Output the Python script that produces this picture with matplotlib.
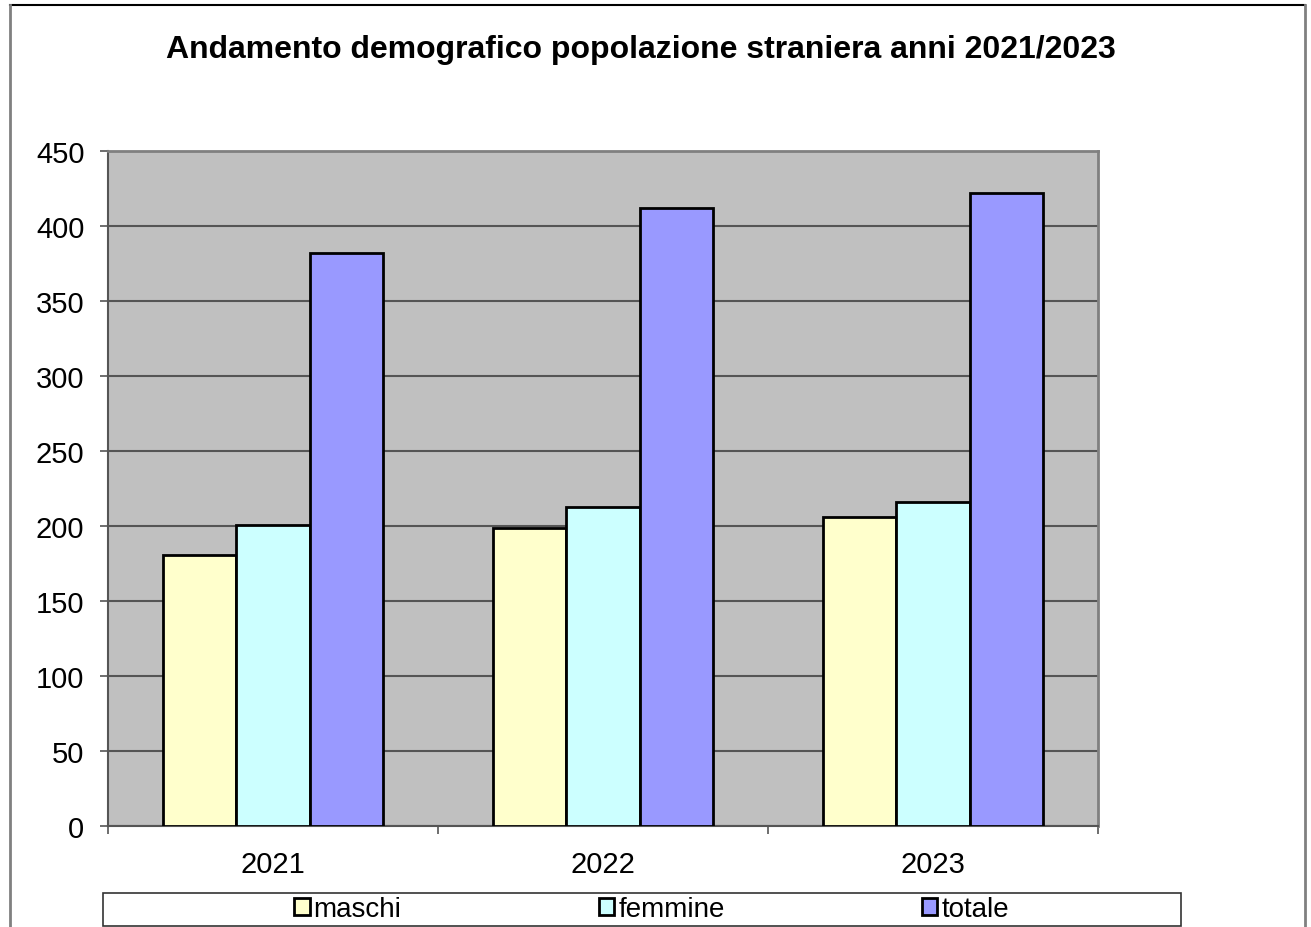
import numpy as np
import matplotlib.pyplot as plt
from matplotlib.lines import Line2D
from matplotlib.patches import Rectangle

plt.rcParams["font.family"] = ["Liberation Sans", "DejaVu Sans"]

anni = ["2021", "2022", "2023"]
maschi = [181, 199, 206]
femmine = [201, 213, 216]
totale = [382, 412, 422]

serie = ["maschi", "femmine", "totale"]
colori = ["#FFFFCC", "#CCFFFF", "#9999FF"]

fig = plt.figure(figsize=(13.11, 9.28), dpi=100)
ax = fig.add_axes([108 / 1311, 1 - 827 / 928, 990 / 1311, 675 / 928])
ax.set_facecolor("#C0C0C0")

x = np.arange(len(anni))
w = 0.222
for i, (vals, col, nome) in enumerate(zip([maschi, femmine, totale], colori, serie)):
    ax.bar(x + (i - 1) * w, vals, width=w, color=col, edgecolor="black",
           linewidth=2, label=nome, zorder=3)

ax.set_xlim(-0.5, 2.5)
ax.set_ylim(0, 450)
ax.set_yticks(np.arange(0, 451, 50))
ax.yaxis.grid(True, color="#555555", linewidth=1.5, zorder=0)
ax.set_axisbelow(True)

# category labels between the tick marks
ax.set_xticks(x)
ax.set_xticklabels(anni)
ax.set_xticks(np.arange(-0.5, 3, 1), minor=True)
ax.tick_params(axis="x", which="major", length=0, pad=17, labelsize=21)
ax.tick_params(axis="x", which="minor", length=6, width=1.2, color="#555555")
ax.tick_params(axis="y", length=6, width=1.2, color="#555555", labelsize=21, pad=11)

for s in ["top", "right"]:
    ax.spines[s].set_color("#808080")
    ax.spines[s].set_linewidth(2)
for s in ["left", "bottom"]:
    ax.spines[s].set_color("#555555")
    ax.spines[s].set_linewidth(1.5)

fig.text(0.489, 1 - 50 / 928, "Andamento demografico popolazione straniera anni 2021/2023",
         ha="center", va="center", fontsize=23, fontweight="bold")

# chart area frame
fig.add_artist(Line2D([10 / 1311, 1305 / 1311], [1 - 6 / 928] * 2, color="black", lw=1.5))
fig.add_artist(Line2D([10 / 1311] * 2, [0, 1 - 6 / 928], color="#808080", lw=2))
fig.add_artist(Line2D([1305 / 1311] * 2, [0, 1 - 6 / 928], color="#808080", lw=2))

# legend box below the axis
fig.add_artist(Rectangle((103 / 1311, 1 - 927 / 928), 1078 / 1311, 33 / 928,
                         transform=fig.transFigure, facecolor="white",
                         edgecolor="#333333", lw=1.2))
handles, labels = ax.get_legend_handles_labels()
leg = fig.legend(handles, labels, loc="center", bbox_to_anchor=(0.497, 1 - 910 / 928),
                 ncol=3, frameon=False, fontsize=20, handlelength=0.55,
                 handleheight=0.55, handletextpad=0.15, columnspacing=7.1,
                 borderpad=0)
for h in leg.legend_handles:
    h.set_linewidth(2)

fig.savefig("out.png", dpi=100)
